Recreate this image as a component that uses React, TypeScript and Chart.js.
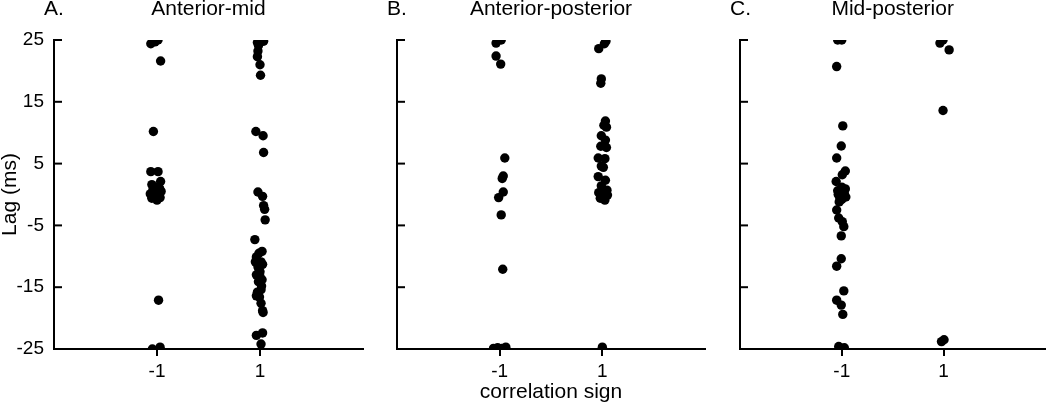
import React, { useEffect, useRef } from 'react';
import { Chart, registerables } from 'chart.js';
Chart.register(...registerables);

const FONT = '"Liberation Sans", Arial, Helvetica, sans-serif';

const yTickValues = [25, 15, 5, -5, -15, -25];
const xTickValues = [-1, 1];
const panelLetters = ['A.', 'B.', 'C.'];
const panelTitles = ['Anterior-mid', 'Anterior-posterior', 'Mid-posterior'];
const yAxisTitle = 'Lag (ms)';
const xAxisTitle = 'correlation sign';

// Panel A: Anterior-mid
const amNegX = [-1.12, -1.04, -0.98, -0.93, -1.07, -1.12, -0.98, -0.93, -1.1, -1.03, -0.95, -1.08, -0.92, -1.0, -1.13, -0.97, -1.05, -0.94, -1.1, -1.0, -0.97, -1.09, -0.94];
const amNegLag = [24.4, 24.7, 25, 21.6, 10.2, 3.7, 3.7, 2.1, 1.6, 1.2, 1.0, 0.7, 0.5, 0.3, 0.1, 0, -0.2, -0.5, -0.6, -0.9, -17.1, -25, -24.7];
const amPosX = [1.04, 0.95, 1.07, 0.97, 0.96, 0.95, 1.0, 1.01, 0.92, 1.06, 1.07, 0.96, 1.05, 1.07, 1.09, 1.1, 0.9, 1.04, 0.98, 0.93, 0.91, 1.02, 0.96, 1.05, 1.0, 0.98, 0.93, 1.0, 1.04, 0.97, 1.03, 1.02, 0.93, 0.95, 0.99, 1.02, 1.05, 1.06, 0.93, 1.05, 1.02];
const amPosLag = [25, 24.6, 24.8, 24.1, 23.2, 22.3, 21, 19.3, 10.2, 9.5, 6.8, 0.4, -0.3, -1.8, -2.4, -4.1, -7.3, -9.2, -9.5, -10.1, -10.9, -10.9, -11.7, -11.3, -12.5, -12.0, -13.0, -13.3, -13.8, -14.1, -14.8, -15.4, -16.4, -15.8, -16.6, -17.6, -18.8, -19.1, -22.8, -22.4, -24.2];

// Panel B: Anterior-posterior
const apNegX = [-1.07, -0.97, -1.07, -0.98, -0.9, -0.93, -0.95, -0.93, -1.02, -0.97, -0.94, -1.12, -1.04, -0.96, -0.88];
const apNegLag = [24.5, 25, 22.4, 21.1, 5.9, 3.0, 2.6, 0.4, -0.5, -3.3, -12.1, -24.9, -24.8, -24.9, -24.7];
const apPosX = [1.07, 1.04, 0.93, 0.98, 0.97, 1.06, 1.03, 1.08, 0.98, 1.06, 0.97, 1.08, 0.92, 1.05, 0.98, 1.02, 0.92, 1.06, 0.98, 1.09, 0.93, 1.02, 1.1, 0.96, 1.05, 1.0];
const apPosLag = [24.8, 24.4, 23.6, 18.7, 18.0, 11.9, 11.2, 10.9, 9.5, 8.8, 7.8, 7.6, 5.9, 5.8, 4.6, 4.4, 2.9, 2.3, 1.4, 0.7, 0.3, 0.5, -0.1, -0.6, -0.9, -24.7];

// Panel C: Mid-posterior
const mpNegX = [-1.08, -1.0, -1.1, -0.98, -1.01, -1.1, -0.93, -0.99, -1.11, -1.0, -0.93, -1.08, -1.02, -0.95, -1.07, -0.97, -1.04, -0.92, -1.0, -1.05, -1.1, -1.06, -0.99, -0.96, -1.01, -1.01, -1.1, -0.96, -1.1, -1.01, -0.98, -1.06, -0.95];
const mpNegLag = [25, 25, 20.7, 11.1, 7.85, 5.9, 3.8, 3.2, 2.1, 1.2, 0.9, 0.6, 0.5, 0.2, 0, -0.2, -0.5, -0.4, -0.8, -1.2, -2.5, -3.8, -4.4, -5.2, -6.7, -10.4, -11.6, -15.6, -17.1, -17.9, -19.4, -24.6, -24.8];
const mpPosX = [0.93, 0.99, 1.11, 0.99, 0.96, 1.01];
const mpPosLag = [24.5, 25, 23.4, 13.6, -23.8, -23.5];

const panelX = [
  [...amNegX, ...amPosX],
  [...apNegX, ...apPosX],
  [...mpNegX, ...mpPosX],
];
const panelLag = [
  [...amNegLag, ...amPosLag],
  [...apNegLag, ...apPosLag],
  [...mpNegLag, ...mpPosLag],
];

const layoutSpec = [
  { left: 0, width: 370, yWidth: 54, padRight: 7 },
  { left: 380, width: 335, yWidth: 17, padRight: 10 },
  { left: 720, width: 330, yWidth: 20, padRight: 4 },
];

function Panel({ idx }: { idx: number }) {
  const ref = useRef<HTMLCanvasElement>(null);
  const spec = layoutSpec[idx];
  useEffect(() => {
    const xs = panelX[idx];
    const ys = panelLag[idx];
    const points = xs.map((x, i) => ({ x, y: ys[i] }));
    const overlay = {
      id: 'overlay' + idx,
      afterDraw(chart: any) {
        const ctx = chart.ctx;
        const area = chart.chartArea;
        const yScale = chart.scales.y;
        ctx.save();
        ctx.strokeStyle = '#000';
        ctx.lineWidth = 2;
        yTickValues.forEach((v) => {
          const py = yScale.getPixelForValue(v);
          ctx.beginPath();
          ctx.moveTo(area.left, py);
          ctx.lineTo(area.left + 8, py);
          ctx.stroke();
        });
        ctx.fillStyle = '#000';
        ctx.font = `21px ${FONT}`;
        ctx.textBaseline = 'alphabetic';
        ctx.textAlign = 'left';
        ctx.fillText(panelLetters[idx], area.left - 10, 15);
        ctx.textAlign = 'center';
        ctx.fillText(panelTitles[idx], (area.left + area.right) / 2, 15);
        if (idx === 0) {
          ctx.save();
          ctx.translate(16, (area.top + area.bottom) / 2);
          ctx.rotate(-Math.PI / 2);
          ctx.textAlign = 'center';
          ctx.textBaseline = 'alphabetic';
          ctx.fillText(yAxisTitle, 0, 0);
          ctx.restore();
        }
        if (idx === 1) {
          ctx.textAlign = 'center';
          ctx.textBaseline = 'alphabetic';
          ctx.fillText(xAxisTitle, (area.left + area.right) / 2, 398);
        }
        ctx.restore();
      },
    };
    const chart = new Chart(ref.current as HTMLCanvasElement, {
      type: 'scatter',
      data: {
        datasets: [
          {
            data: points,
            backgroundColor: '#000',
            borderColor: '#000',
            borderWidth: 0,
            pointRadius: 4.7,
            pointHoverRadius: 4.7,
          },
        ],
      },
      options: {
        animation: false,
        responsive: false,
        maintainAspectRatio: false,
        events: [],
        layout: { padding: { top: 40, right: spec.padRight, left: 0, bottom: 0 } },
        plugins: {
          legend: { display: false },
          tooltip: { enabled: false },
          title: { display: false },
        },
        scales: {
          x: {
            type: 'linear',
            min: -3,
            max: 3,
            afterBuildTicks: (s: any) => {
              s.ticks = xTickValues.map((v) => ({ value: v }));
            },
            afterFit: (s: any) => {
              s.height = 57;
            },
            grid: {
              display: true,
              drawOnChartArea: false,
              drawTicks: true,
              tickLength: 7,
              color: '#000',
              lineWidth: 2,
            },
            border: { display: true, color: '#000', width: 2 },
            ticks: {
              color: '#000',
              font: { family: FONT, size: 19 },
              padding: 4,
              callback: (v: any) => String(v),
            },
          },
          y: {
            type: 'linear',
            min: -25,
            max: 25,
            afterBuildTicks: (s: any) => {
              s.ticks = yTickValues.map((v) => ({ value: v }));
            },
            afterFit: (s: any) => {
              s.width = spec.yWidth;
            },
            grid: {
              display: true,
              drawOnChartArea: false,
              drawTicks: false,
              tickLength: 0,
            },
            border: { display: true, color: '#000', width: 2 },
            ticks: {
              display: idx === 0,
              color: '#000',
              font: { family: FONT, size: 19 },
              padding: 10,
              callback: (v: any) => String(v),
            },
          },
        },
      },
      plugins: [overlay],
    } as any);
    return () => chart.destroy();
  }, [idx]);
  return (
    <canvas
      ref={ref}
      width={spec.width}
      height={406}
      style={{ position: 'absolute', left: spec.left, top: 0, width: spec.width, height: 406 }}
    />
  );
}

export default function App() {
  return (
    <div style={{ position: 'absolute', left: 0, top: 0, width: 1050, height: 406, background: '#fff' }}>
      <Panel idx={0} />
      <Panel idx={1} />
      <Panel idx={2} />
    </div>
  );
}
